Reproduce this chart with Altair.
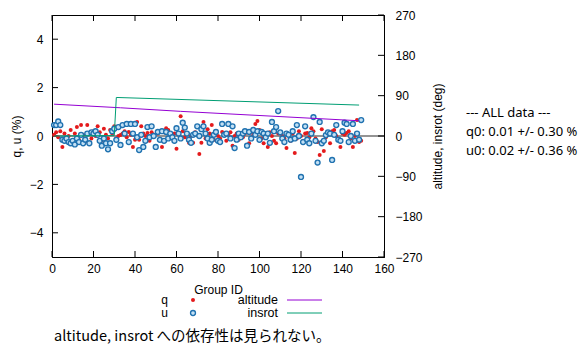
import altair as alt
import pandas as pd

# ---------------- data ----------------
group_id = list(range(1, 150))

q_vals = [
    0.05, 0.15, -0.05, 0.2, -0.45, 0.1, -0.1, 0.0, 0.25, -0.2,
    0.1, 0.37, -0.15, 0.45, 0.05, -0.25, 0.45, 0.1, -0.1, 0.2,
    0.0, 0.4, 0.15, -0.2, 0.3, 0.05, -0.1, 0.25, 0.1, 0.4,
    -0.1, 0.0, 0.04, 0.1, 0.2, -0.05, 0.17, 0.05, -0.45, -0.16,
    0.58, -0.16, 0.4, 0.1, 0.0, 0.12, -0.2, 0.15, 0.05, -0.45,
    0.1, 0.2, -0.45, 0.15, 0.32, 0.25, 0.05, -0.1, 0.1, -0.53,
    0.1, 0.82, 0.2, -0.05, 0.1, -0.28, 0.0, -0.28, 0.15, 0.05,
    -0.74, -0.28, 0.58, -0.1, 0.28, 0.1, 0.45, -0.15, 0.2, 0.0,
    -0.1, 0.17, 0.1, -0.2, 0.05, 0.15, -0.4, 0.0, 0.1, -0.15,
    0.1, -0.05, 0.1, 0.17, -0.3, 0.2, 0.05, 0.5, 0.62, 0.25,
    -0.1, -0.3, 0.1, -0.45, 0.15, 0.0, -0.2, -0.3, 0.1, 0.17,
    0.0, -0.1, -0.5, 0.05, -0.2, 0.1, -0.7, -0.1, 0.2, 0.0,
    -0.2, 0.1, 0.12, -0.05, 0.32, 0.2, -0.1, -0.25, -0.78, 0.28,
    -0.62, -0.05, 0.17, -0.3, 0.2, 0.25, 0.0, -0.16, -0.45, 0.1,
    0.05, 0.12, 0.2, -0.1, -0.45, 0.0, 0.66, -0.25, -0.2,
]

u_vals = [
    0.45, 0.45, 0.6, 0.45, -0.15, -0.2, -0.1, -0.25, -0.3, -0.2,
    -0.35, -0.1, -0.25, 0.05, -0.3, -0.15, 0.1, -0.3, 0.15, 0.1,
    0.2, 0.05, -0.2, -0.4, -0.1, -0.3, -0.55, -0.3, 0.2, 0.3,
    -0.16, 0.37, -0.37, 0.45, 0.1, 0.5, -0.25, 0.5, 0.1, 0.5,
    -0.05, -0.58, 0.05, -0.45, -0.2, 0.37, -0.05, 0.4, 0.0, -0.45,
    0.17, -0.16, 0.2, -0.2, 0.17, -0.1, 0.1, -0.05, -0.2, 0.32,
    0.1, -0.1, 0.55, 0.35, 0.1, -0.15, -0.28, 0.05, 0.1, 0.4,
    0.0, 0.28, 0.4, 0.1, -0.1, -0.28, -0.15, 0.05, 0.17, -0.2,
    -0.25, 0.5, 0.05, 0.1, 0.5, -0.1, 0.4, -0.5, -0.15, 0.1,
    -0.05, 0.1, 0.2, -0.4, 0.17, -0.1, 0.25, 0.05, 0.2, -0.16,
    0.17, 0.1, -0.05, 0.1, -0.28, 0.58, 0.2, 0.37, 1.03, 0.15,
    -0.1, -0.25, 0.1, 0.05, -0.15, 0.2, -0.1, 0.45, 0.0, -1.69,
    -0.25, 0.4, -0.15, -0.3, 0.1, 0.78, -0.2, -1.1, 0.58, -0.3,
    -0.2, 0.04, 0.15, 0.1, -0.99, 0.05, 0.45, -0.15, -0.2, 0.2,
    0.55, 0.5, -0.25, 0.0, 0.5, -0.2, 0.1, -0.15, 0.66,
]

altitude_gid = [1, 33, 62, 148]
altitude_deg = [71, 63, 55, 34]
insrot_gid = [1, 30, 31, 148]
insrot_deg = [0, 1, 86, 69]

x_ticks = [0, 20, 40, 60, 80, 100, 120, 140, 160]
y_ticks = [-4, -2, 0, 2, 4]
y2_ticks = [-270, -180, -90, 0, 90, 180, 270]

stats_lines = ["--- ALL data ---", "q0: 0.01 +/- 0.30 %", "u0: 0.02 +/- 0.36 %"]
caption = "altitude, insrot への依存性は見られない。"

# ---------------- tables ----------------
pts = pd.DataFrame({"gid": group_id, "q": q_vals, "u": u_vals})
lines = pd.concat([
    pd.DataFrame({"gid": altitude_gid, "deg": altitude_deg, "series": "altitude"}),
    pd.DataFrame({"gid": insrot_gid, "deg": insrot_deg, "series": "insrot"}),
])

W, H = 332, 242
PAD_L, PAD_T = 44, 7
PAD_R = 572 - PAD_L - W
PAD_B = 338 - PAD_T - H
RED = "#e41a1c"
BLUE = "#2072b0"
BLUE_FILL = "#c3e0f4"
PURPLE = "#9400d3"
GREEN = "#009e73"
FONT = "Liberation Sans"

xs = alt.Scale(domain=[0, 160], nice=False, zero=False)
ys = alt.Scale(domain=[-5, 5], nice=False, zero=False)
y2s = alt.Scale(domain=[-270, 270], nice=False, zero=False)

x_axis = alt.Axis(values=x_ticks, title="Group ID", tickSize=0, labelPadding=6,
                  labelFlush=False, labelOverlap=False, titleX=166, titleY=32,
                  titleBaseline="middle", titleAlign="center")
left_axis = alt.Axis(values=y_ticks, title="q, u (%)", orient="left", tickSize=0,
                     labelPadding=9, labelFlush=False, labelOverlap=False,
                     titleX=-36, titleY=121, titleAngle=270, titleAlign="center",
                     titleBaseline="middle")
right_axis = alt.Axis(values=y2_ticks, title="altitude, insrot (deg)", orient="right",
                      tickSize=0, labelPadding=11, labelFlush=False, labelOverlap=False,
                      labelAlign="left", titleX=53, titleY=121, titleAngle=270,
                      titleAlign="center", titleBaseline="middle")

# ----- left-scale group -----
zero = alt.Chart(pd.DataFrame({"y": [0]})).mark_rule(color="#707070", strokeWidth=1.5).encode(
    y=alt.Y("y:Q", scale=ys, axis=left_axis))

lticks = alt.Chart(pd.DataFrame({"t": y_ticks})).mark_rule(color="black").encode(
    y=alt.Y("t:Q", scale=ys, axis=left_axis), x=alt.value(0), x2=alt.value(6))

xticks_b = alt.Chart(pd.DataFrame({"t": x_ticks})).mark_rule(color="black").encode(
    x=alt.X("t:Q", scale=xs, axis=x_axis), y=alt.value(H), y2=alt.value(H - 6))
xticks_t = alt.Chart(pd.DataFrame({"t": x_ticks})).mark_rule(color="black").encode(
    x=alt.X("t:Q", scale=xs, axis=x_axis), y=alt.value(0), y2=alt.value(6))

qpts = alt.Chart(pts).mark_circle(size=16, color=RED, opacity=1).encode(
    x=alt.X("gid:Q", scale=xs, axis=x_axis),
    y=alt.Y("q:Q", scale=ys, axis=left_axis))

upts = alt.Chart(pts).mark_point(shape="circle", filled=True, fill=BLUE_FILL, stroke=BLUE,
                                 strokeWidth=1.4, size=24, opacity=1).encode(
    x=alt.X("gid:Q", scale=xs, axis=x_axis),
    y=alt.Y("u:Q", scale=ys, axis=left_axis))

def txt(s, x, y, align="left", size=12, font=FONT, baseline="middle"):
    return alt.Chart(pd.DataFrame({"s": [s]})).mark_text(
        align=align, baseline=baseline, fontSize=size, font=font, color="black").encode(
        text="s:N", x=alt.value(x), y=alt.value(y))

legend_parts = [
    txt("q", 116, 285, "right"),
    txt("u", 116, 298, "right"),
    alt.Chart(pd.DataFrame({"k": [0]})).mark_circle(size=16, color=RED, opacity=1).encode(
        x=alt.value(141), y=alt.value(285)),
    alt.Chart(pd.DataFrame({"k": [0]})).mark_point(shape="circle", filled=True, fill=BLUE_FILL,
                                                   stroke=BLUE, strokeWidth=1.4, size=24,
                                                   opacity=1).encode(
        x=alt.value(141), y=alt.value(298)),
    txt("altitude", 226, 285, "right", size=12.5),
    txt("insrot", 226, 298, "right", size=12.5),
    alt.Chart(pd.DataFrame({"k": [0]})).mark_rule(color=PURPLE, strokeWidth=1).encode(
        x=alt.value(235), x2=alt.value(270), y=alt.value(285)),
    alt.Chart(pd.DataFrame({"k": [0]})).mark_rule(color=GREEN, strokeWidth=1).encode(
        x=alt.value(235), x2=alt.value(270), y=alt.value(298)),
    txt(stats_lines[0], 414, 98, size=13, font="Noto Sans"),
    txt(stats_lines[1], 414, 117, size=13, font="Noto Sans"),
    txt(stats_lines[2], 414, 136, size=13, font="Noto Sans"),
    txt(caption, 2, 326, size=14.5, font="Noto Sans CJK JP", baseline="alphabetic"),
]

left_group = alt.layer(zero, lticks, xticks_b, xticks_t, qpts, upts, *legend_parts)

# ----- right-scale group -----
ln = alt.Chart(lines).mark_line(strokeWidth=1).encode(
    x=alt.X("gid:Q", scale=xs, axis=x_axis),
    y=alt.Y("deg:Q", scale=y2s, axis=right_axis),
    color=alt.Color("series:N", scale=alt.Scale(domain=["altitude", "insrot"],
                                                range=[PURPLE, GREEN]), legend=None),
    detail="series:N")

rticks = alt.Chart(pd.DataFrame({"t": y2_ticks})).mark_rule(color="black").encode(
    y=alt.Y("t:Q", scale=y2s, axis=right_axis), x=alt.value(W - 6), x2=alt.value(W))

right_group = alt.layer(ln, rticks)

chart = alt.layer(left_group, right_group).resolve_scale(y="independent").properties(
    width=W, height=H,
    autosize=alt.AutoSizeParams(type="none"),
    padding={"left": PAD_L, "top": PAD_T, "right": PAD_R, "bottom": PAD_B},
    background="white",
).configure_view(stroke="black", strokeWidth=1).configure_axis(
    domainColor="black", domainWidth=1, grid=False,
    labelFont=FONT, labelFontSize=12, labelColor="black",
    titleFont=FONT, titleFontSize=12, titleColor="black", titleFontWeight="normal",
)

chart.save("out.html", embed_options={"renderer": "svg", "actions": False})
